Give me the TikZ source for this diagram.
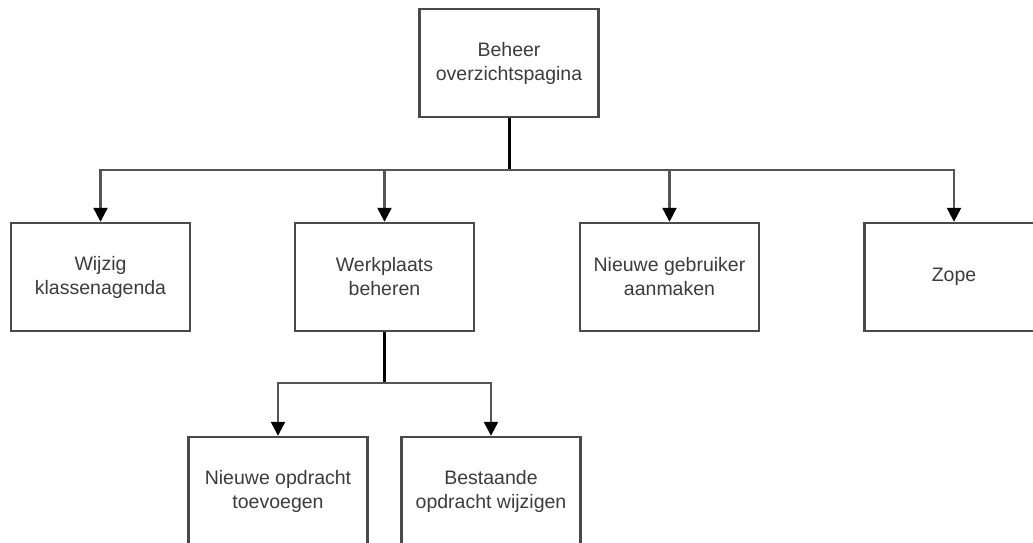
\documentclass[tikz,border=0pt]{standalone}
\usepackage{fontspec}
\setmainfont{Liberation Sans}
\usepackage{tikz}
\usetikzlibrary{arrows.meta,positioning}
\usepackage{xcolor}
\definecolor{boxline}{HTML}{4A4A4A}
\definecolor{linkline}{HTML}{555555}
\definecolor{labeltext}{HTML}{3C3C3C}

\begin{document}
\begin{tikzpicture}[x=1pt,y=-1pt,
    page/.style={draw=boxline, line width=2.4pt, fill=white, minimum width=179pt, minimum height=108pt,
      inner sep=0pt, align=center, text=labeltext, font=\fontsize{19.5}{24}\selectfont},
    link/.style={draw=linkline, line width=2.3pt, -{Triangle[length=14pt,width=14pt,black]}},
    stem/.style={draw=black, line width=3pt}]
  \clip (0,0) rectangle (1033,542);
  \fill[white] (0,0) rectangle (1033,542);

  % top level
  \node[page] (beheer) at (509,63) {Beheer\\overzichtspagina};

  % second level
  \node[page] (wijzig) at (100.5,277) {Wijzig\\klassenagenda};
  \node[page] (werkplaats) at (384.5,277) {Werkplaats\\beheren};
  \node[page] (gebruiker) at (669.5,277) {Nieuwe gebruiker\\aanmaken};
  \node[page] (zope) at (954,277) {Zope};

  % third level
  \node[page] (toevoegen) at (278,491) {Nieuwe opdracht\\toevoegen};
  \node[page] (wijzigen) at (491,491) {Bestaande\\opdracht wijzigen};

  \coordinate (bus1) at (509,170);
  \coordinate (bus2) at (384.5,383);

  \draw[stem] (beheer) -- (bus1);
  \draw[link] (bus1) -| (wijzig);
  \draw[link] (bus1) -| (werkplaats);
  \draw[link] (bus1) -| (gebruiker);
  \draw[link] (bus1) -| (zope);

  \draw[stem] (werkplaats) -- (bus2);
  \draw[link] (bus2) -| (toevoegen);
  \draw[link] (bus2) -| (wijzigen);
\end{tikzpicture}
\end{document}
